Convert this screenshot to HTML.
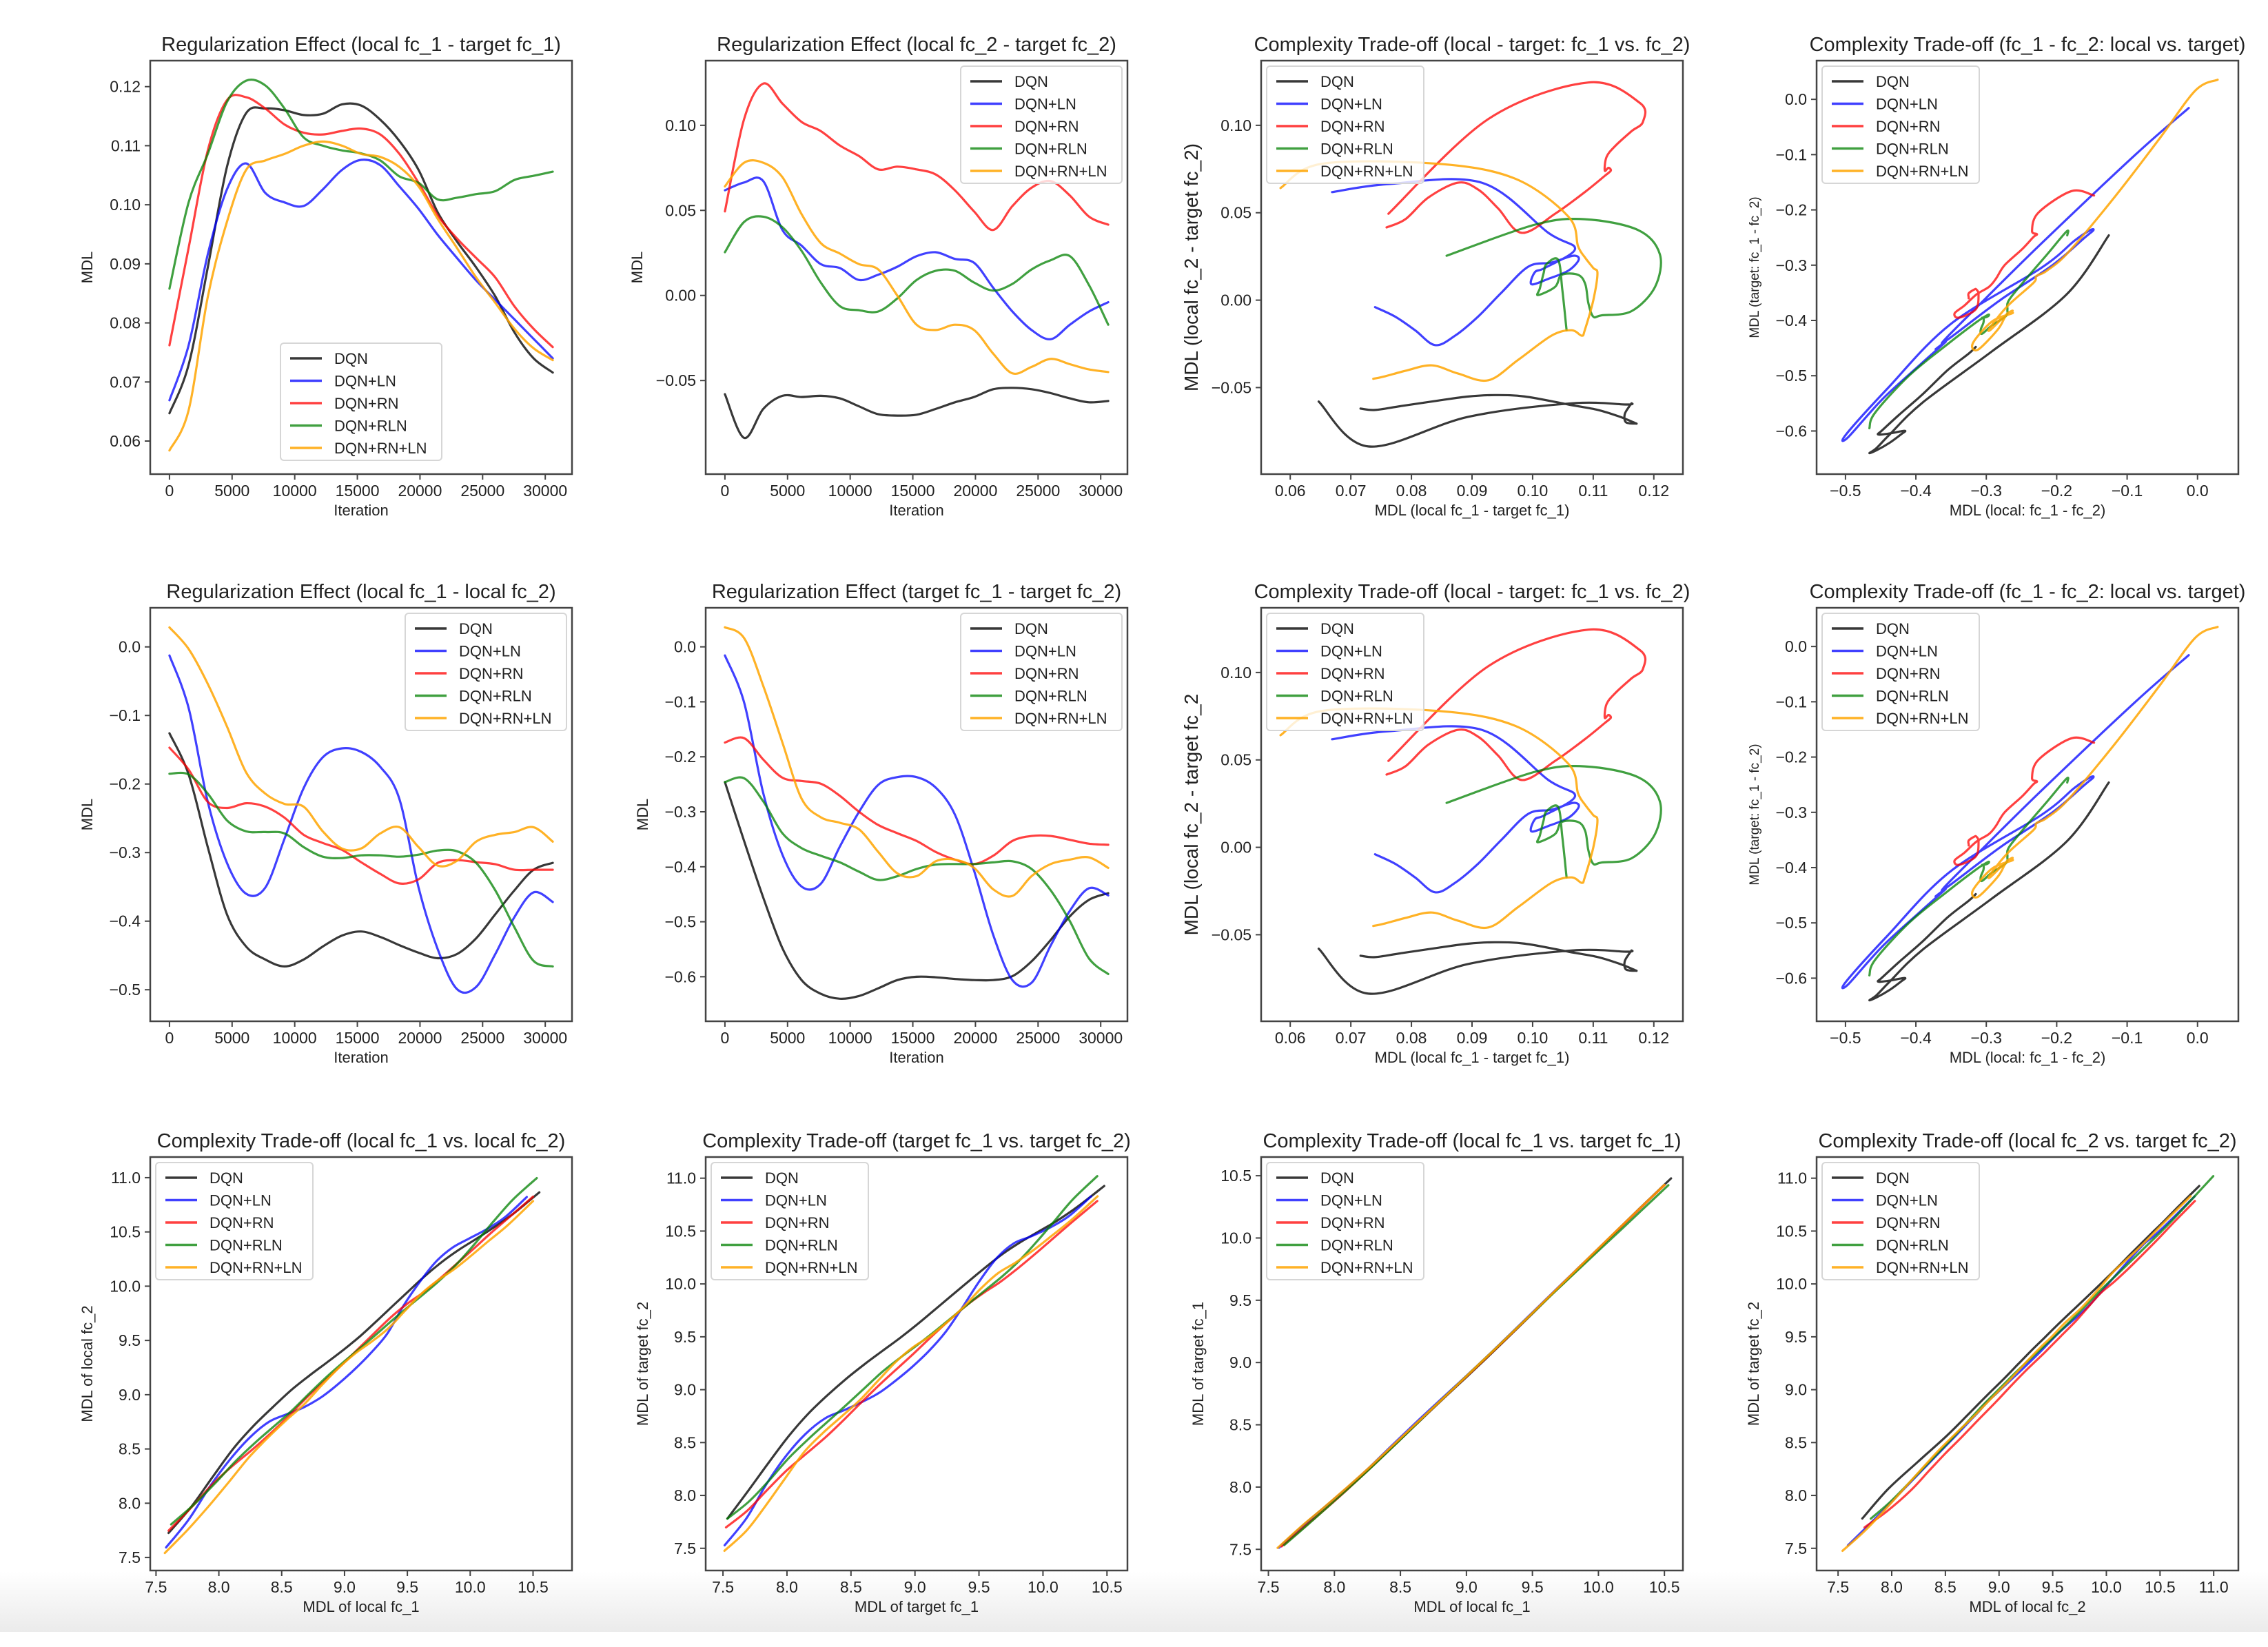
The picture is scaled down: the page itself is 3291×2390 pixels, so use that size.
<!DOCTYPE html>
<html><head><meta charset="utf-8"><style>
html,body{margin:0;padding:0;background:#fff;}
#wrap{position:relative;width:3291px;height:2390px;overflow:hidden;background:#fff;}
#band{position:absolute;left:0;top:2280px;width:3291px;height:88px;background:linear-gradient(#fff,#ebebeb);}
svg{position:absolute;left:0;top:0;}
text{font-family:"Liberation Sans","DejaVu Sans",sans-serif;fill:#222;}
</style></head><body>
<div id="wrap">
<div id="band"></div>
<svg id="fig" width="3291" height="2390"></svg>
</div>
<script>
const methods = ["DQN","DQN+LN","DQN+RN","DQN+RLN","DQN+RN+LN"];
const iters = [0,1530,3060,4590,6120,7650,9180,10710,12240,13770,15300,16830,18360,19890,21420,22950,24480,26010,27540,29070,30600];
// Regularization effect local fc_1 - target fc_1
const regFc1_DQN  = [0.0647,0.0729,0.0894,0.1064,0.1155,0.1163,0.1160,0.1152,0.1154,0.1170,0.1168,0.1144,0.1108,0.1059,0.0987,0.0938,0.0894,0.0845,0.0784,0.0740,0.0716];
const regFc1_LN   = [0.0669,0.0762,0.0916,0.1026,0.1070,0.1020,0.1004,0.0998,0.1026,0.1059,0.1076,0.1067,0.1031,0.0993,0.0949,0.0910,0.0872,0.0839,0.0806,0.0773,0.0740];
const regFc1_RN   = [0.0762,0.0927,0.1092,0.1177,0.1182,0.1163,0.1136,0.1122,0.1119,0.1125,0.1129,0.1119,0.1086,0.1037,0.0982,0.0943,0.0910,0.0877,0.0828,0.0790,0.0759];
const regFc1_RLN  = [0.0858,0.1004,0.1086,0.1174,0.1210,0.1202,0.1163,0.1114,0.1100,0.1092,0.1087,0.1075,0.1048,0.1037,0.1009,0.1012,0.1018,0.1023,0.1042,0.1049,0.1056];
const regFc1_RNLN = [0.0584,0.0652,0.0844,0.0971,0.1059,0.1075,0.1086,0.1100,0.1107,0.1100,0.1086,0.1081,0.1064,0.1031,0.0976,0.0927,0.0877,0.0834,0.0790,0.0757,0.0737];
// Regularization effect local fc_2 - target fc_2
const regFc2_DQN  = [-0.058,-0.0837,-0.0667,-0.059,-0.0597,-0.059,-0.0605,-0.0652,-0.0698,-0.0706,-0.0701,-0.0667,-0.0628,-0.0597,-0.0551,-0.0543,-0.0551,-0.0574,-0.0605,-0.0628,-0.062];
const regFc2_LN   = [0.0618,0.0664,0.0672,0.0385,0.0293,0.0184,0.0161,0.0091,0.0122,0.0169,0.0231,0.0254,0.0215,0.0192,0.0045,-0.0094,-0.0203,-0.0257,-0.0172,-0.0094,-0.004];
const regFc2_RN   = [0.0494,0.1036,0.1245,0.1128,0.1020,0.0966,0.0881,0.0819,0.0741,0.0757,0.0741,0.0711,0.0618,0.0494,0.0385,0.0525,0.0633,0.0672,0.0587,0.0463,0.0416];
const regFc2_RLN  = [0.0254,0.0432,0.0463,0.0401,0.0262,0.0076,-0.0063,-0.0087,-0.0094,-0.0017,0.0091,0.0145,0.0145,0.0076,0.0029,0.0068,0.0153,0.0207,0.0231,0.006,-0.0172];
const regFc2_RNLN = [0.0641,0.078,0.078,0.0695,0.0478,0.0308,0.0246,0.0184,0.0153,-0.0002,-0.0172,-0.0203,-0.0172,-0.0203,-0.0342,-0.0458,-0.042,-0.0373,-0.0404,-0.0435,-0.045];
// Regularization effect local fc_1 - local fc_2
const regLocal_DQN  = [-0.126,-0.186,-0.292,-0.39,-0.437,-0.456,-0.466,-0.456,-0.437,-0.421,-0.415,-0.423,-0.435,-0.446,-0.454,-0.448,-0.425,-0.39,-0.355,-0.325,-0.315];
const regLocal_LN   = [-0.0125,-0.089,-0.226,-0.315,-0.36,-0.351,-0.28,-0.206,-0.161,-0.148,-0.153,-0.175,-0.222,-0.351,-0.441,-0.499,-0.496,-0.448,-0.394,-0.358,-0.372];
const regLocal_RN   = [-0.147,-0.179,-0.226,-0.235,-0.228,-0.233,-0.249,-0.274,-0.286,-0.296,-0.314,-0.331,-0.345,-0.339,-0.315,-0.311,-0.314,-0.317,-0.325,-0.325,-0.325];
const regLocal_RLN  = [-0.185,-0.186,-0.214,-0.253,-0.269,-0.27,-0.272,-0.292,-0.306,-0.308,-0.304,-0.304,-0.306,-0.303,-0.297,-0.298,-0.315,-0.355,-0.409,-0.458,-0.466];
const regLocal_RNLN = [0.0285,-0.003,-0.054,-0.116,-0.183,-0.214,-0.229,-0.233,-0.269,-0.294,-0.294,-0.272,-0.263,-0.292,-0.319,-0.312,-0.284,-0.274,-0.27,-0.263,-0.284];
// Regularization effect target fc_1 - target fc_2
const regTarget_DQN  = [-0.246,-0.353,-0.456,-0.548,-0.606,-0.631,-0.64,-0.635,-0.621,-0.606,-0.6,-0.601,-0.604,-0.606,-0.606,-0.599,-0.572,-0.533,-0.49,-0.46,-0.448];
const regTarget_LN   = [-0.0156,-0.101,-0.266,-0.378,-0.436,-0.431,-0.363,-0.3,-0.251,-0.237,-0.237,-0.256,-0.305,-0.407,-0.524,-0.606,-0.611,-0.543,-0.48,-0.439,-0.452];
const regTarget_RN   = [-0.174,-0.166,-0.205,-0.238,-0.244,-0.249,-0.271,-0.3,-0.324,-0.339,-0.353,-0.373,-0.387,-0.395,-0.38,-0.353,-0.344,-0.344,-0.351,-0.358,-0.36];
const regTarget_RLN  = [-0.246,-0.239,-0.281,-0.339,-0.366,-0.38,-0.392,-0.409,-0.424,-0.417,-0.404,-0.396,-0.395,-0.395,-0.392,-0.39,-0.404,-0.443,-0.499,-0.567,-0.595];
const regTarget_RNLN = [0.0355,0.016,-0.071,-0.174,-0.276,-0.31,-0.32,-0.332,-0.373,-0.412,-0.417,-0.39,-0.387,-0.402,-0.441,-0.453,-0.417,-0.395,-0.387,-0.383,-0.402];
// MDL of local fc_1
const localFc1_DQN  = [7.60,7.78,7.95,8.12,8.28,8.43,8.58,8.72,8.86,9.00,9.13,9.26,9.39,9.52,9.65,9.78,9.91,10.04,10.18,10.34,10.55];
const localFc1_LN   = [7.58,7.76,7.93,8.09,8.25,8.40,8.54,8.68,8.82,8.95,9.08,9.21,9.34,9.47,9.60,9.73,9.86,9.99,10.13,10.28,10.45];
const localFc1_RN   = [7.60,7.78,7.95,8.11,8.27,8.42,8.56,8.70,8.84,8.98,9.11,9.24,9.37,9.50,9.63,9.76,9.89,10.02,10.16,10.31,10.50];
const localFc1_RLN  = [7.62,7.80,7.97,8.13,8.29,8.44,8.58,8.72,8.86,9.00,9.13,9.26,9.39,9.52,9.65,9.78,9.91,10.04,10.18,10.34,10.53];
const localFc1_RNLN = [7.57,7.75,7.92,8.08,8.24,8.39,8.54,8.68,8.82,8.96,9.09,9.22,9.35,9.48,9.61,9.74,9.87,10.00,10.14,10.30,10.50];

const regFc1 = [regFc1_DQN,regFc1_LN,regFc1_RN,regFc1_RLN,regFc1_RNLN];
const regFc2 = [regFc2_DQN,regFc2_LN,regFc2_RN,regFc2_RLN,regFc2_RNLN];
const regLocal = [regLocal_DQN,regLocal_LN,regLocal_RN,regLocal_RLN,regLocal_RNLN];
const regTarget = [regTarget_DQN,regTarget_LN,regTarget_RN,regTarget_RLN,regTarget_RNLN];
const localFc1 = [localFc1_DQN,localFc1_LN,localFc1_RN,localFc1_RLN,localFc1_RNLN];
const iterTicks = [0,5000,10000,15000,20000,25000,30000];
const colors = ["rgba(0,0,0,0.78)","rgba(0,0,255,0.75)","rgba(255,0,0,0.75)","rgba(0,128,0,0.75)","rgba(255,165,0,0.85)"];

function localFc2(m){return localFc1[m].map((v,i)=>v-regLocal[m][i]);}
function targetFc1(m){return localFc1[m].map((v,i)=>v-regFc1[m][i]);}
function targetFc2(m){const t=targetFc1(m);return t.map((v,i)=>v-regTarget[m][i]);}
function range(a,b,s){const r=[];for(let v=a;v<=b+1e-9;v+=s)r.push(+v.toFixed(6));return r;}

const colL=[218,1024,1830,2636], rowT=[88,882,1679], W=612, H=600;
const fmt=d=>v=>{let s=Math.abs(v)<1e-9?(0).toFixed(d):v.toFixed(d);return s.replace('-','\u2212');};
const itFmt=v=>String(v);
const panels=[
 {name:"reg-fc1",c:0,r:0,title:"Regularization Effect (local fc_1 - target fc_1)",xl:"Iteration",yl:"MDL",xlim:[-1535,32135],ylim:[0.0544,0.1244],xt:iterTicks,yt:range(0.06,0.12,0.01),xf:itFmt,yf:fmt(2),leg:"lc",series:m=>[iters,regFc1[m]]},
 {name:"reg-fc2",c:1,r:0,title:"Regularization Effect (local fc_2 - target fc_2)",xl:"Iteration",yl:"MDL",xlim:[-1535,32135],ylim:[-0.105,0.138],xt:iterTicks,yt:range(-0.05,0.10,0.05),xf:itFmt,yf:fmt(2),leg:"ur",series:m=>[iters,regFc2[m]]},
 {name:"tradeoff-local-target-a",c:2,r:0,title:"Complexity Trade-off (local - target: fc_1 vs. fc_2)",xl:"MDL (local fc_1 - target fc_1)",yl:"MDL (local fc_2 - target fc_2)",ylSize:28,xlim:[0.0552,0.1248],ylim:[-0.0995,0.137],xt:range(0.06,0.12,0.01),yt:range(-0.05,0.10,0.05),xf:fmt(2),yf:fmt(2),leg:"ul",series:m=>[regFc1[m],regFc2[m]]},
 {name:"tradeoff-fc1-fc2-a",c:3,r:0,title:"Complexity Trade-off (fc_1 - fc_2: local vs. target)",xl:"MDL (local: fc_1 - fc_2)",yl:"MDL (target: fc_1 - fc_2)",ylSize:19,xlim:[-0.541,0.058],ylim:[-0.678,0.07],xt:range(-0.5,0,0.1),yt:range(-0.6,0,0.1),xf:fmt(1),yf:fmt(1),leg:"ul",series:m=>[regLocal[m],regTarget[m]]},
 {name:"reg-local",c:0,r:1,title:"Regularization Effect (local fc_1 - local fc_2)",xl:"Iteration",yl:"MDL",xlim:[-1535,32135],ylim:[-0.546,0.057],xt:iterTicks,yt:range(-0.5,0,0.1),xf:itFmt,yf:fmt(1),leg:"ur",series:m=>[iters,regLocal[m]]},
 {name:"reg-target",c:1,r:1,title:"Regularization Effect (target fc_1 - target fc_2)",xl:"Iteration",yl:"MDL",xlim:[-1535,32135],ylim:[-0.681,0.071],xt:iterTicks,yt:range(-0.6,0,0.1),xf:itFmt,yf:fmt(1),leg:"ur",series:m=>[iters,regTarget[m]]},
 {name:"tradeoff-local-target-b",c:2,r:1,title:"Complexity Trade-off (local - target: fc_1 vs. fc_2)",xl:"MDL (local fc_1 - target fc_1)",yl:"MDL (local fc_2 - target fc_2",ylSize:28,xlim:[0.0552,0.1248],ylim:[-0.0995,0.137],xt:range(0.06,0.12,0.01),yt:range(-0.05,0.10,0.05),xf:fmt(2),yf:fmt(2),leg:"ul",series:m=>[regFc1[m],regFc2[m]]},
 {name:"tradeoff-fc1-fc2-b",c:3,r:1,title:"Complexity Trade-off (fc_1 - fc_2: local vs. target)",xl:"MDL (local: fc_1 - fc_2)",yl:"MDL (target: fc_1 - fc_2)",ylSize:19,xlim:[-0.541,0.058],ylim:[-0.678,0.07],xt:range(-0.5,0,0.1),yt:range(-0.6,0,0.1),xf:fmt(1),yf:fmt(1),leg:"ul",series:m=>[regLocal[m],regTarget[m]]},
 {name:"local-fc1-vs-local-fc2",c:0,r:2,title:"Complexity Trade-off (local fc_1 vs. local fc_2)",xl:"MDL of local fc_1",yl:"MDL of local fc_2",xlim:[7.454,10.81],ylim:[7.38,11.19],xt:range(7.5,10.5,0.5),yt:range(7.5,11,0.5),xf:fmt(1),yf:fmt(1),leg:"ul",series:m=>[localFc1[m],localFc2(m)]},
 {name:"target-fc1-vs-target-fc2",c:1,r:2,title:"Complexity Trade-off (target fc_1 vs. target fc_2)",xl:"MDL of target fc_1",yl:"MDL of target fc_2",xlim:[7.365,10.66],ylim:[7.29,11.2],xt:range(7.5,10.5,0.5),yt:range(7.5,11,0.5),xf:fmt(1),yf:fmt(1),leg:"ul",series:m=>[targetFc1(m),targetFc2(m)]},
 {name:"local-fc1-vs-target-fc1",c:2,r:2,title:"Complexity Trade-off (local fc_1 vs. target fc_1)",xl:"MDL of local fc_1",yl:"MDL of target fc_1",xlim:[7.445,10.64],ylim:[7.33,10.65],xt:range(7.5,10.5,0.5),yt:range(7.5,10.5,0.5),xf:fmt(1),yf:fmt(1),leg:"ul",series:m=>[localFc1[m],targetFc1(m)]},
 {name:"local-fc2-vs-target-fc2",c:3,r:2,title:"Complexity Trade-off (local fc_2 vs. target fc_2)",xl:"MDL of local fc_2",yl:"MDL of target fc_2",xlim:[7.3,11.23],ylim:[7.29,11.2],xt:range(7.5,11,0.5),yt:range(7.5,11,0.5),xf:fmt(1),yf:fmt(1),leg:"ul",series:m=>[localFc2(m),targetFc2(m)]}
];
const NS="http://www.w3.org/2000/svg";
const svg=document.getElementById('fig');
function mk(tag,attrs,parent,txt){const e=document.createElementNS(NS,tag);for(const k in attrs)e.setAttribute(k,attrs[k]);if(txt!==undefined)e.textContent=txt;parent.appendChild(e);return e;}
function spline(pts){
  let d=`M${pts[0][0].toFixed(1)},${pts[0][1].toFixed(1)}`;
  for(let i=0;i<pts.length-1;i++){
    const p0=pts[i-1]||pts[i],p1=pts[i],p2=pts[i+1],p3=pts[i+2]||pts[i+1];
    const c1=[p1[0]+(p2[0]-p0[0])/6,p1[1]+(p2[1]-p0[1])/6],c2=[p2[0]-(p3[0]-p1[0])/6,p2[1]-(p3[1]-p1[1])/6];
    d+=` C${c1[0].toFixed(1)},${c1[1].toFixed(1)} ${c2[0].toFixed(1)},${c2[1].toFixed(1)} ${p2[0].toFixed(1)},${p2[1].toFixed(1)}`;
  }
  return d;
}
panels.forEach(p=>{
  const L=colL[p.c],T=rowT[p.r],R=L+W,B=T+H;
  const sx=v=>L+(v-p.xlim[0])/(p.xlim[1]-p.xlim[0])*W;
  const sy=v=>B-(v-p.ylim[0])/(p.ylim[1]-p.ylim[0])*H;
  const g=mk('g',{},svg);
  
  
  const t=mk('text',{x:(L+R)/2,y:T-14,'text-anchor':'middle','font-size':29},g,p.title);
  
  
  const clipId='clip'+p.c+p.r;
  const cp=mk('clipPath',{id:clipId},g);mk('rect',{x:L,y:T,width:W,height:H},cp);
  const lines=mk('g',{'clip-path':`url(#${clipId})`},g);
  
  
  methods.forEach((mName,m)=>{
    const [xs,ys]=p.series(m);
    const pts=xs.map((x,i)=>[sx(x),sy(ys[i])]);
    const path=mk('path',{d:spline(pts),fill:'none',stroke:colors[m],'stroke-width':3.2,'stroke-linejoin':'round','stroke-linecap':'round'},lines);
    
    
  });
  const frame=mk('rect',{x:L,y:T,width:W,height:H,fill:'none',stroke:'#444',"stroke-width":2.5},g);
  
  
  p.xt.forEach(v=>{const x=sx(v);
    mk('line',{x1:x,x2:x,y1:B,y2:B+8,stroke:'#444','stroke-width':2},g);
    const tl=mk('text',{x:x,y:B+32,'text-anchor':'middle','font-size':23},g,p.xf(v));
    
    });
  p.yt.forEach(v=>{const y=sy(v);
    mk('line',{x1:L-8,x2:L,y1:y,y2:y,stroke:'#444','stroke-width':2},g);
    const tl=mk('text',{x:L-14,y:y+8,'text-anchor':'end','font-size':23},g,p.yf(v));
    
    });
  const xl=mk('text',{x:(L+R)/2,y:B+60,'text-anchor':'middle','font-size':22},g,p.xl);
  
  
  const yx=L-(p.yt.some(v=>p.yf(v).length>4)?92:84);
  const yl=mk('text',{x:yx,y:(T+B)/2,'text-anchor':'middle','font-size':p.ylSize||22,transform:`rotate(-90 ${yx} ${(T+B)/2})`},g,p.yl);
  
  
  const lw=p.leg==="ul"?228:234,lh=170;
  let lx,ly;
  if(p.leg==="ur"){lx=R-8-lw;ly=T+8;}else if(p.leg==="ul"){lx=L+8;ly=T+8;}else{lx=(L+R)/2-lw/2;ly=B-20-lh;}
  const lg=mk('g',{},g);
  
  
  mk('rect',{x:lx,y:ly,width:lw,height:lh,rx:5,fill:'rgba(255,255,255,0.8)',stroke:'#d6d6d6','stroke-width':2},lg);
  methods.forEach((mName,m)=>{const cy=ly+22+m*32.5;
    const e=mk('g',{},lg);
    
    
    mk('line',{x1:lx+14,x2:lx+60,y1:cy,y2:cy,stroke:colors[m],'stroke-width':3.5},e);
    mk('text',{x:lx+78,y:cy+8,'font-size':22},e,mName);});
});
</script>
</body></html>
